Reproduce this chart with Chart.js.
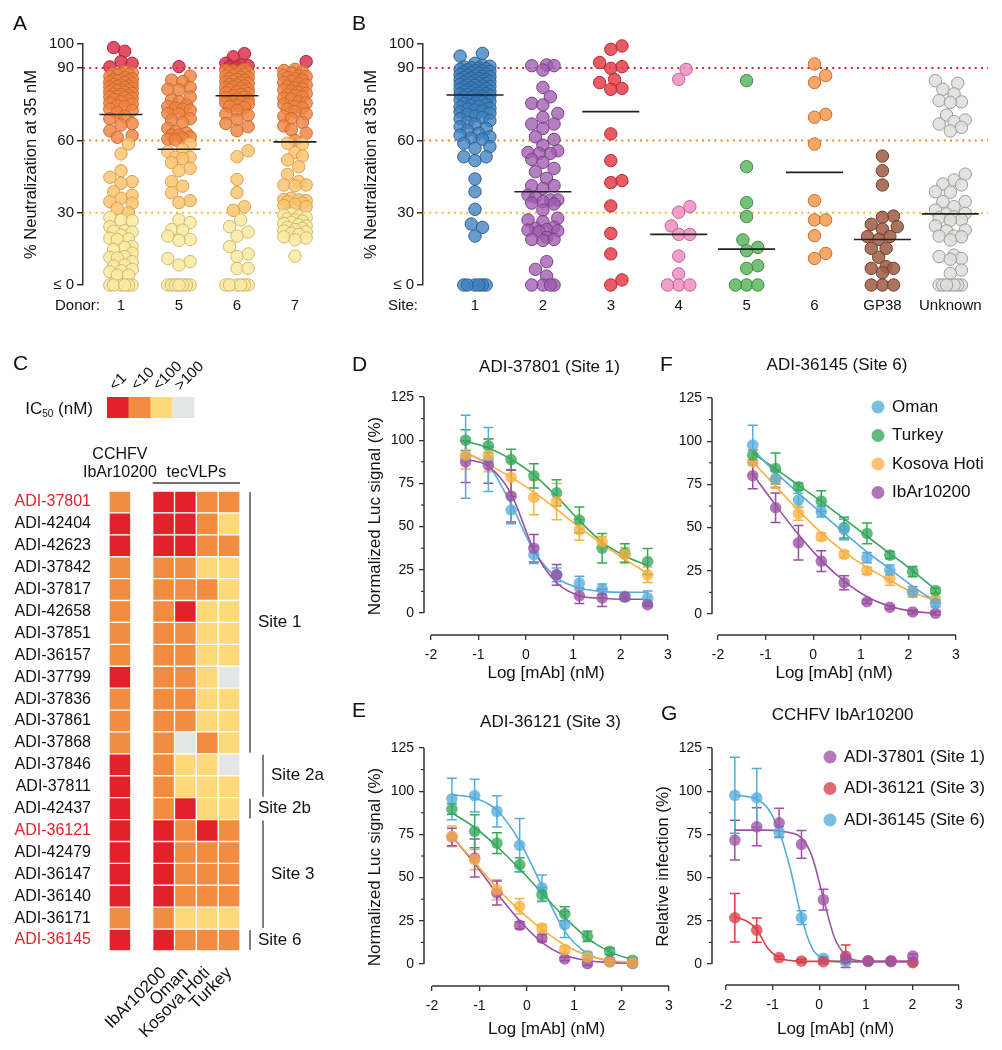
<!DOCTYPE html>
<html>
<head>
<meta charset="utf-8">
<script src="https://cdn.jsdelivr.net/npm/chart.js@4.4.1/dist/chart.umd.min.js"></script>
<style>
  body { margin: 0; background: #fff; }
  #page { position: relative; width: 1002px; height: 1050px; overflow: hidden; font-family: "Liberation Sans", Arial, sans-serif; color: #111; }
  canvas { position: absolute; }
  .tag { position: absolute; font-size: 21px; line-height: 1; }
</style>
</head>
<body>
<div id="page">
  <canvas id="cA" width="320" height="290" style="left:0;top:30px"></canvas>
  <canvas id="cB" width="672" height="290" style="left:330px;top:30px"></canvas>
  <canvas id="cC" width="330" height="710" style="left:0;top:340px"></canvas>
  <canvas id="cD" width="350" height="360" style="left:330px;top:330px"></canvas>
  <canvas id="cF" width="352" height="360" style="left:650px;top:330px"></canvas>
  <canvas id="cE" width="350" height="360" style="left:330px;top:690px"></canvas>
  <canvas id="cG" width="352" height="360" style="left:650px;top:690px"></canvas>
  <div class="tag" style="left:13px;top:12px">A</div>
  <div class="tag" style="left:352px;top:12px">B</div>
  <div class="tag" style="left:13px;top:352px">C</div>
  <div class="tag" style="left:352px;top:353px">D</div>
  <div class="tag" style="left:660px;top:353px">F</div>
  <div class="tag" style="left:352px;top:699px">E</div>
  <div class="tag" style="left:661px;top:702px">G</div>
</div>
<script>
// ---------- panel A: % neutralization per donor ----------
const DONORS = ['1', '5', '6', '7'];
const donor1 = [98.5, 97, 92.7, 92, 90.5,
  88.5, 88, 87.8, 87.5, 87.2, 87, 86.5, 86, 85.5, 85.2, 85, 84.8, 84.6, 84.2, 84, 83.6, 83.2, 83, 82.6,
  82.4, 82.2, 82, 81.6, 81.2, 81, 80.8, 80.6, 80.2, 80, 79.5, 79.2, 79, 78.6, 78.2, 78, 77.8, 77.5, 77,
  76.5, 76, 75.5, 75, 74.3, 74, 73, 72.5, 71.5,
  70, 69, 67, 66.4, 64, 62, 61.3,
  58.5, 54.4, 47.4, 44.7, 42.9, 42.2, 38.7, 37.3, 36, 34.6, 33.9, 31.8,
  30, 28, 27, 26.7, 24.2, 22.5, 22.3, 22, 20.7, 19.4, 19.1, 18.9, 16, 15.6, 14.8, 13.2, 11.8, 11.5, 11.2,
  9.7, 8.3, 7.9, 6.5, 5.9, 5.5, 4.1, 4.1,
  0, 0, 0, 0, 0, 0];
const donor5 = [90.6,
  86.7, 85, 84.4, 82, 81.2, 81, 78, 76.8, 76, 74.7, 74, 73.5, 73, 72.6, 71.2, 71, 69, 68.5, 67.5, 65, 63.6,
  63, 62.2, 62.2, 61.5, 61, 60.5,
  60.2, 58.5, 56.3, 55.3, 53, 53, 52.5, 50.8, 48.4, 47.4, 42.9, 41, 38.3, 35, 34.2,
  27, 25.9, 23, 22.8, 20.3, 18.9, 18.5, 11, 9.7, 8.3,
  0, 0, 0, 0, 0, 0, 0, 0];
const donor6 = [96, 94.7, 92, 91.3, 91, 90.6, 90.5,
  89.5, 89, 88.8, 88.5, 88.2, 88, 87.6, 87.3, 87, 86.6, 86.2, 86, 85.6, 85.3, 85, 84.6, 84.3, 84, 83.6,
  83.2, 83, 82.6, 82.2, 82, 81.6, 81.2, 81, 80.5, 80.2, 79.8, 79.4, 79, 78.5, 78, 77.6, 77.2, 76.8, 76.3,
  76, 75.5, 75, 74.5, 74, 73.5, 72.5, 71, 70.5, 68.5, 67, 65.7, 64,
  55.7, 53.2, 43.8, 38.3,
  32.5, 31, 27, 24.2, 22, 20.3, 15.9, 12.9, 11.8, 6.9, 6.9,
  0, 0, 0, 0, 0, 0];
const donor7 = [92.7,
  89.5, 89, 88.5, 88, 87, 86.8, 86.5, 86, 85.5, 85, 84.5, 84, 83.5, 83, 82.5, 82, 81.5, 81, 80.5, 80,
  79.5, 79, 78.5, 78, 77.5, 77, 76, 75.5, 75, 74, 73.5, 73, 72, 71, 70, 69, 67.5, 66, 64.5, 63,
  60, 58.8, 58.5, 54.9, 53.5, 51.9, 49.1, 45.9, 42.9, 41.5, 41.5, 41.2, 36, 35.5, 35.3, 35, 34.6, 34,
  33.5, 33, 32.5,
  29.5, 29, 28.6, 28, 27.5, 27, 26.5, 26, 25.5, 25, 24.5, 24, 23.5, 23, 22.4, 22, 21.5, 21, 20, 19.5,
  18.7, 12];

// ---------- panel B: % neutralization per site ----------
const SITES = ['1', '2', '3', '4', '5', '6', 'GP38', 'Unknown'];
const site1 = [96.1, 95, 92, 91.2, 90.8, 90.5, 90.2, 90, 89.8, 89.5,
  89.3, 89, 88.8, 88.6, 88.3, 88, 87.8, 87.6, 87.3, 87,
  86.8, 86.6, 86.4, 86.1, 85.9, 85.7, 85.4, 85.2, 85, 84.8,
  84.6, 84.4, 84.1, 83.9, 83.7, 83.5, 83.2, 83, 82.8, 82.6,
  82.4, 82.1, 81.9, 81.7, 81.5, 81.2, 81, 80.8, 80.5, 80.3,
  80.1, 79.9, 79.6, 79.4, 79.2, 79, 78.7, 78.5, 78.2, 78,
  77.7, 77.4, 77.1, 76.8, 76.5, 76.2, 75.9, 75.5, 75.2, 74.8,
  74.5, 74.1, 73.8, 73.4, 73, 72.6, 72.2, 71.8, 71.3, 70.8,
  70.2, 69.5, 69, 68.2, 67.5, 66.8, 65.7, 65, 64.2, 63,
  62.2, 61.5, 61, 60.5, 58.8, 57.4, 56.7, 53.2, 53.2, 51.6,
  44, 38.7, 31.4, 25.3, 23.9, 20.3, 0, 0, 0, 0, 0, 0];
const site2 = [91.3, 91, 91, 89.2, 82, 78.1, 75.4, 74.7, 71.2, 69.6, 66.8, 66.8, 65, 61.5, 60.4, 58, 55.7,
  55, 54.6, 54.6, 52.1, 50.9, 48.4, 47, 44.3, 41.2, 41.2, 40.1, 37.3, 36.5, 35.3, 35.3, 34.6, 34, 33.6,
  31.1, 27.7, 27, 26.3, 24, 23.5, 23, 22.8, 22.5, 22.1, 19.8, 18.9, 18.9, 18.5, 9.7, 6.5, 3.7, 0, 0, 0, 0];
const site3 = [99.2, 97.8, 92.3, 90.6, 89.9, 85.3, 84, 81.6, 81.2, 62.7, 51.6, 43.3, 42.5, 32.8, 21.4, 12.9, 2.1, 0];
const site4 = [89.5, 85.3, 32.5, 30.2, 24.5, 21, 21, 12, 4.6, 0, 0, 0];
const site5 = [84.8, 49.1, 34.2, 28.4, 18.7, 15.6, 14.2, 8, 6.9, 0, 0, 0];
const site6 = [91.7, 86.9, 84, 70.8, 69.6, 58.5, 35, 27, 27, 20.5, 13.1, 11];
const siteGP38 = [53.5, 47.4, 41.5, 28.6, 28.1, 25.2, 24.2, 23.2, 20.1, 20.1, 18.9, 15.2, 15.2, 11.5, 7.6,
  6.9, 6.9, 5.1, 0, 0, 0];
const siteUnknown = [84.8, 83.7, 81.2, 79.3, 76.5, 76, 75.8, 70.5, 68.5, 67.8, 66.8, 65.4, 63.9,
  46, 43.6, 41.9, 41.5, 38.7, 38.5, 34.6, 34.6, 32.5, 31.1, 29.7, 29.5, 28.3, 27.9, 27, 26.8, 24.5, 22.8,
  22.5, 20.3, 20.3, 20, 18.7, 12.4, 11.8, 11, 10.7, 6.2, 4.8, 0, 0, 0, 0, 0, 0, 0];

const NEUT_TICKS = [0, 30, 60, 90, 100];
const THRESHOLDS = [90, 60, 30];

// ---------- panel C: IC50 heatmap ----------
const MABS = ['ADI-37801', 'ADI-42404', 'ADI-42623', 'ADI-37842', 'ADI-37817', 'ADI-42658', 'ADI-37851',
  'ADI-36157', 'ADI-37799', 'ADI-37836', 'ADI-37861', 'ADI-37868', 'ADI-37846', 'ADI-37811', 'ADI-42437',
  'ADI-36121', 'ADI-42479', 'ADI-36147', 'ADI-36140', 'ADI-36171', 'ADI-36145'];
const MAB_HIGHLIGHT = ['ADI-37801', 'ADI-36121', 'ADI-36145'];
const IC50_BINS = ['<1', '<10', '<100', '>100'];
const TEC_STRAINS = ['IbAr10200', 'Oman', 'Kosova Hoti', 'Turkey'];
// bin index per mAb (0: <1, 1: <10, 2: <100, 3: >100)
const ic50Cchfv  = [1, 0, 0, 1, 1, 1, 1, 1, 0, 1, 1, 1, 0, 0, 0, 0, 0, 0, 0, 1, 0];
const ic50IbAr   = [0, 0, 0, 1, 1, 1, 1, 1, 1, 1, 1, 1, 1, 1, 1, 0, 0, 0, 0, 1, 0];
const ic50Oman   = [0, 0, 0, 1, 1, 0, 1, 1, 1, 1, 1, 3, 2, 2, 0, 1, 1, 1, 1, 2, 1];
const ic50Kosova = [1, 1, 1, 2, 1, 2, 2, 2, 2, 2, 2, 1, 2, 2, 2, 0, 1, 1, 1, 2, 1];
const ic50Turkey = [1, 2, 1, 2, 2, 2, 2, 2, 3, 2, 2, 2, 3, 2, 2, 1, 1, 1, 1, 2, 1];
const SITE_GROUPS = [
  { name: 'Site 1', from: 0, to: 11, level: 0 },
  { name: 'Site 2a', from: 12, to: 13, level: 1 },
  { name: 'Site 2b', from: 14, to: 14, level: 0 },
  { name: 'Site 3', from: 15, to: 19, level: 1 },
  { name: 'Site 6', from: 20, to: 20, level: 0 }
];

// ---------- panels D, F: ADI-37801 / ADI-36145 on tecVLPs ----------
const LOG_DF = [-1.27, -0.79, -0.31, 0.17, 0.65, 1.13, 1.61, 2.09, 2.57];
const dOman = [90.4, 88.8, 59.6, 33.7, 22.1, 17.3, 13.8, 9.6, 8.7];
const dOmanErr = [24, 18.5, 8, 5, 4, 4, 3, 2, 4];
const dOmanFit = [92.5, 85.5, 63, 36, 20.5, 14.5, 12.5, 12, 12];
const dTurkey = [100, 96.7, 88.8, 79.4, 69.6, 53.8, 37.5, 34.6, 29.8];
const dTurkeyErr = [6, 4, 6, 7, 7.5, 7.5, 8.5, 5.5, 7.5];
const dTurkeyFit = [99.5, 95.5, 89, 80, 67.5, 53.5, 41, 33, 27.5];
const dKosova = [91.3, 91.3, 78.5, 66.9, 64.4, 48.1, 41.3, 33.7, 22.1];
const dKosovaErr = [8, 9.5, 9, 10, 10.5, 6, 3, 4, 4.5];
const dKosovaFit = [93, 86, 78.5, 70, 60, 49.5, 40, 31, 23];
const dIbAr = [87.5, 85.6, 67.7, 37.5, 22.1, 10, 8.7, 9.2, 4.8];
const dIbArErr = [12, 10.5, 15, 8, 6, 4.5, 5, 2, 1];
const dIbArFit = [89, 85, 69, 36.5, 17.5, 10, 8.5, 8, 8];

const fOman = [97.7, 78.4, 65.9, 59.2, 48.9, 32.6, 25.4, 12.9, 6.2];
const fOmanErr = [11.5, 5, 4, 3, 6, 3, 3, 3, 2];
const fOmanFit = [95, 82, 70, 58.5, 47, 36, 26, 16, 7];
const fTurkey = [91.9, 84.2, 73.6, 65.3, 50, 46.6, 34.1, 24.5, 13.5];
const fTurkeyErr = [3, 9, 2, 6, 6, 6, 2, 3, 1.5];
const fTurkeyFit = [93, 84, 74.5, 65, 55, 45, 35, 25, 14];
const fKosova = [88, 77.8, 58.2, 44.7, 34.5, 25, 20.6, 12.3, 8.5];
const fKosovaErr = [7, 5, 4, 2, 2, 2, 4, 2, 1.5];
const fKosovaFit = [88, 74, 60, 47, 36, 27, 19.5, 12.5, 8];
const fIbAr = [80, 61.5, 41.2, 30.6, 18.1, 7.1, 3.9, 1.2, 0.4];
const fIbArErr = [7.5, 8.5, 10, 6, 4, 1, 1, 1, 1];
const fIbArFit = [81, 63, 46, 31, 19, 10, 4.5, 1.5, 0.5];

// ---------- panel E: ADI-36121 on tecVLPs ----------
const LOG_E = [-1.58, -1.10, -0.63, -0.15, 0.32, 0.80, 1.28, 1.75, 2.23];
const eOman = [95.5, 97.4, 88.3, 68.7, 44, 22.8, 4.8, 1.5, 0.2];
const eOmanErr = [12, 9.5, 9, 15.5, 7.5, 7.5, 2, 1, 1];
const eOmanFit = [98, 96, 89, 71, 45, 19, 6, 1.5, 0.3];
const eTurkey = [89.7, 76.8, 70, 57.5, 40.1, 29.1, 16, 7.3, 2.1];
const eTurkeyErr = [3, 9.5, 6, 4, 4, 4, 3, 2, 1];
const eTurkeyFit = [87.5, 79, 68, 55, 41, 27, 15, 7, 2.5];
const eKosova = [73.9, 60.4, 43, 33.4, 20.8, 8.3, 3.9, 1, 0.6];
const eKosovaErr = [6, 5.8, 5.8, 4.5, 2, 2, 1, 1, 1];
const eKosovaFit = [74, 59, 44, 31, 20, 11, 5, 2, 1];
const eIbAr = [73.5, 61.3, 41.1, 22.4, 15, 2.9, 0.2, 1.5, 0.5];
const eIbArErr = [5, 11, 7, 2, 2, 1, 1, 1, 1];
const eIbArFit = [74, 58, 41, 25, 12.5, 5, 2, 0.8, 0.5];

// ---------- panel G: authentic CCHFV IbAr10200 ----------
const LOG_G = [-1.81, -1.34, -0.86, -0.38, 0.09, 0.57, 1.05, 1.54, 2.01];
const LOG_G_FIT = [-1.81, -1.57, -1.34, -1.1, -0.86, -0.62, -0.38, -0.15, 0.09, 0.33, 0.57, 0.81, 1.05, 1.54, 2.01];
const g37801 = [71.7, 79.4, 81.7, 69.2, 37.2, 3, 1.9, 1.9, 4.6];
const g37801Err = [11.5, 11, 8.5, 8, 6, 2, 1, 1, 1];
const g37801Fit = [77.5, 77.5, 77.5, 77.5, 77, 76, 73, 62, 38, 15, 5, 2, 1.6, 1.5, 1.5];
const g36121 = [26.8, 19.6, 3.7, 1.7, 1.3, 4.5, 1.7, 1.5, 0.8];
const g36121Err = [14, 7, 1, 1, 1, 6.5, 1, 1, 1];
const g36121Fit = [27, 25, 20, 9, 3.5, 2, 1.6, 1.5, 1.5, 1.5, 1.5, 1.5, 1.5, 1.5, 1.5];
const g36145 = [97.6, 96.2, 76.5, 26.8, 3.3, 1.3, 1.3, 1.3, 1.3];
const g36145Err = [22, 17, 3, 4, 1, 1, 1, 1, 1];
const g36145Fit = [97.5, 97, 95.5, 90, 77, 55, 27, 9, 3, 1.5, 1.2, 1.2, 1.2, 1.2, 1.2];

// ---------- styling ----------
const FONT = '"Liberation Sans", Arial, Helvetica, sans-serif';
Chart.defaults.font.family = FONT;
Chart.defaults.font.size = 14;
Chart.defaults.color = '#111';
Chart.defaults.animation = false;
Chart.defaults.plugins.legend.display = false;
Chart.defaults.plugins.tooltip.enabled = false;

const REF_COLORS = { 90: '#e8202a', 60: '#f5852a', 30: '#f9b628' };
const SITE_COLORS = [
  ['rgba(62,130,192,0.78)', '#2d5f90'], ['rgba(160,92,176,0.78)', '#7a3f88'],
  ['rgba(228,62,72,0.85)', '#b02a35'], ['rgba(238,142,192,0.85)', '#c0608f'],
  ['rgba(92,182,96,0.85)', '#3d8a42'], ['rgba(244,154,76,0.85)', '#c07030'],
  ['rgba(160,96,72,0.88)', '#704030'], ['rgba(222,222,220,0.85)', '#9a9a9a']
];
const HEAT_COLORS = ['#e3212b', '#f28c40', '#fdd97a', '#e4e5e5'];
const C_OMAN = '#55acdc', C_TURKEY = '#35a85a', C_KOSOVA = '#fbb040', C_IBAR = '#9a4ea3';
const C_G1 = '#a052a8', C_G3 = '#d8404c', C_G6 = '#55acdb';

function neutColor(v, border) {
  if (v >= 90) return border ? '#b3203c' : 'rgba(216,50,75,0.85)';
  if (v >= 60) return border ? '#c96a30' : 'rgba(240,132,66,0.82)';
  if (v >= 30) return border ? '#d6a050' : 'rgba(252,198,112,0.85)';
  return border ? '#cdb870' : 'rgba(251,234,162,0.88)';
}

function withAlpha(hex, a) {
  const n = parseInt(hex.slice(1), 16);
  return `rgba(${n >> 16},${(n >> 8) & 255},${n & 255},${a})`;
}

function median(vals) {
  const s = [...vals].sort((a, b) => a - b);
  const m = Math.floor(s.length / 2);
  return s.length % 2 ? s[m] : (s[m - 1] + s[m]) / 2;
}

function drawText(ctx, text, x, y, size, align = 'center', color = '#111') {
  ctx.save();
  ctx.font = `${size}px ${FONT}`;
  ctx.fillStyle = color;
  ctx.textAlign = align;
  ctx.textBaseline = 'middle';
  ctx.fillText(text, x, y);
  ctx.restore();
}

function line(ctx, x1, y1, x2, y2, color, width) {
  ctx.save();
  ctx.strokeStyle = color;
  ctx.lineWidth = width;
  ctx.beginPath();
  ctx.moveTo(x1, y1);
  ctx.lineTo(x2, y2);
  ctx.stroke();
  ctx.restore();
}

function drawHeatExtras(chart) {
  const { ctx, chartArea: ca, scales: { x, y } } = chart;
  const cw = x.getPixelForValue(1) - x.getPixelForValue(0);
  const legTop = ca.top - 94;

  IC50_BINS.forEach((bin, i) => {
    const left = x.getPixelForValue(i) - 2;
    ctx.fillStyle = HEAT_COLORS[i];
    ctx.fillRect(left, legTop, cw, 21);
    ctx.save();
    ctx.translate(left + 8, legTop - 6);
    ctx.rotate(-Math.PI / 4);
    ctx.font = `15px ${FONT}`;
    ctx.fillStyle = '#111';
    ctx.textAlign = 'left';
    ctx.textBaseline = 'alphabetic';
    ctx.fillText(bin, 0, 0);
    ctx.restore();
  });

  // IC50 (nM) with subscript
  ctx.save();
  ctx.fillStyle = '#111';
  ctx.textBaseline = 'alphabetic';
  ctx.font = `17px ${FONT}`;
  const w1 = ctx.measureText('IC').width, w3 = ctx.measureText(' (nM)').width;
  ctx.font = `10px ${FONT}`;
  const w2 = ctx.measureText('50').width;
  const sx = x.getPixelForValue(0) - 16 - (w1 + w2 + w3);
  const base = legTop + 17;
  ctx.font = `17px ${FONT}`;
  ctx.fillText('IC', sx, base);
  ctx.font = `10px ${FONT}`;
  ctx.fillText('50', sx + w1, base + 3);
  ctx.font = `17px ${FONT}`;
  ctx.fillText(' (nM)', sx + w1 + w2, base);
  ctx.restore();

  // column headers
  drawText(ctx, 'CCHFV', x.getPixelForValue(0.5), ca.top - 36, 16);
  drawText(ctx, 'IbAr10200', x.getPixelForValue(0.5), ca.top - 18, 16);
  drawText(ctx, 'tecVLPs', x.getPixelForValue(4), ca.top - 18, 16);
  line(ctx, x.getPixelForValue(2), ca.top - 8, x.getPixelForValue(6), ca.top - 8, '#444', 1.5);

  // site brackets
  const half = (y.getPixelForValue(1) - y.getPixelForValue(0)) / 2;
  SITE_GROUPS.forEach(g => {
    const bx = ca.right + 10 + g.level * 13;
    const y1 = y.getPixelForValue(g.from) - half + 1;
    const y2 = y.getPixelForValue(g.to) + half - 1;
    line(ctx, bx, y1, bx, y2, '#555', 1.5);
    drawText(ctx, g.name, bx + 8, (y1 + y2) / 2, 17, 'left');
  });
}

const panelDecor = {
  id: 'panelDecor',
  beforeDatasetsDraw(chart) {
    const ctx = chart.ctx;
    const ys = chart.scales.y;
    chart.data.datasets.forEach((ds, i) => {
      if (!ds.errors) return;
      const meta = chart.getDatasetMeta(i);
      ctx.save();
      ctx.strokeStyle = ds.errorColor;
      ctx.lineWidth = 1.5;
      meta.data.forEach((pt, j) => {
        const e = ds.errors[j];
        if (!e) return;
        const v = ds.data[j].y;
        const top = ys.getPixelForValue(v + e), bot = ys.getPixelForValue(v - e);
        ctx.beginPath();
        ctx.moveTo(pt.x, top); ctx.lineTo(pt.x, bot);
        ctx.moveTo(pt.x - 5, top); ctx.lineTo(pt.x + 5, top);
        ctx.moveTo(pt.x - 5, bot); ctx.lineTo(pt.x + 5, bot);
        ctx.stroke();
      });
      ctx.restore();
    });
  },
  afterDraw(chart, args, o) {
    const { ctx, chartArea: ca, scales } = chart;
    if (o.axes) {
      const a = o.axes, xs = scales.x, ys = scales.y;
      line(ctx, ca.left, ys.getPixelForValue(a.yTo), ca.left, ys.getPixelForValue(a.yFrom), '#333', 1.5);
      line(ctx, xs.getPixelForValue(a.xFrom), ca.bottom, xs.getPixelForValue(a.xTo), ca.bottom, '#333', 1.5);
      a.yMinor.forEach(v => {
        const py = ys.getPixelForValue(v);
        line(ctx, ca.left - 3, py, ca.left, py, '#333', 1.2);
      });
      if (o.title) {
        const cx = (xs.getPixelForValue(a.xFrom) + xs.getPixelForValue(a.xTo)) / 2;
        drawText(ctx, o.title.text, cx, o.title.y, 17);
      }
    }
    if (o.legend) {
      let k = 0;
      chart.data.datasets.forEach(ds => {
        if (!ds.legendItem) return;
        const ly = o.legend.y + k * o.legend.gap;
        ctx.save();
        ctx.fillStyle = ds.backgroundColor;
        ctx.beginPath();
        ctx.arc(o.legend.x, ly, 6.5, 0, Math.PI * 2);
        ctx.fill();
        ctx.restore();
        drawText(ctx, ds.label, o.legend.x + 14, ly, 17, 'left');
        k++;
      });
    }
    if (o.caption) drawText(ctx, o.caption.text, o.caption.x, o.caption.y, 15, 'right');
    if (o.heat) drawHeatExtras(chart);
  }
};
Chart.register(panelDecor);

// ---------- scatter dot plots (A, B) ----------
function swarmX(chart, center, values, halfWidth, radius) {
  const xs = chart.scales.x, ys = chart.scales.y;
  const cx = xs.getPixelForValue(center);
  const order = values.map((v, i) => i).sort((a, b) => values[a] - values[b]);
  const placed = [];
  const out = new Array(values.length);
  const step = radius * 0.6, minDist = radius * 1.75;
  order.forEach(i => {
    const py = ys.getPixelForValue(values[i]);
    let best = 0, bestGap = -1;
    for (let k = 0; ; k++) {
      const off = (k % 2 ? 1 : -1) * Math.ceil(k / 2) * step;
      if (Math.abs(off) > halfWidth) break;
      let gap = Infinity;
      for (const p of placed) {
        if (Math.abs(p.y - py) < minDist) gap = Math.min(gap, Math.hypot(p.x - off, p.y - py));
      }
      if (gap >= minDist) { best = off; break; }
      if (gap > bestGap) { bestGap = gap; best = off; }
    }
    placed.push({ x: best, y: py });
    out[i] = xs.getValueForPixel(cx + best);
  });
  return out;
}

function dotPlot(id, g) {
  const box = g.box;
  const padLeft = g.yTitleX - box.l - 10;
  const spacing = g.spacing;
  const xMin = -(g.cat0 - g.axisX) / spacing;
  const xMax = (g.right - g.cat0) / spacing;
  const groups = g.groups;

  const datasets = [];
  THRESHOLDS.forEach(t => datasets.push({
    type: 'line', data: [{ x: xMin, y: t }, { x: xMax, y: t }], borderColor: REF_COLORS[t],
    borderWidth: 2, borderDash: [2, 4.2], pointRadius: 0, order: 9
  }));
  groups.forEach((vals, i) => datasets.push({
    type: 'scatter', data: vals.map(v => ({ x: i, y: v })), pointRadius: 6.2, pointBorderWidth: 1,
    backgroundColor: g.fill(i), borderColor: g.stroke(i), clip: false, order: 2
  }));
  const med = [];
  groups.forEach((vals, i) => {
    const m = median(vals);
    med.push({ x: i - g.medHalf, y: m }, { x: i + g.medHalf, y: m }, { x: i, y: null });
  });
  datasets.push({ type: 'line', data: med, borderColor: '#222', borderWidth: 1.6, pointRadius: 0, spanGaps: false, order: 0, clip: false });

  const chart = new Chart(document.getElementById(id), {
    type: 'scatter',
    data: { datasets },
    options: {
      responsive: false,
      layout: { padding: { left: padLeft, top: g.y100 - box.t, right: box.l + box.w - g.right, bottom: 0 } },
      scales: {
        x: {
          type: 'linear', min: xMin, max: xMax,
          afterBuildTicks: s => { s.ticks = g.cats.map((c, i) => ({ value: i })); },
          ticks: { callback: (v, i) => g.cats[i], autoSkip: false, maxRotation: 0, padding: 4, font: { size: 15 } },
          grid: { display: false }, border: { display: false },
          afterFit: s => { s.height = box.t + box.h - g.y0; }
        },
        y: {
          min: 0, max: 100,
          afterBuildTicks: s => { s.ticks = NEUT_TICKS.map(v => ({ value: v })); },
          ticks: { callback: v => (v === 0 ? '≤ 0' : String(v)), padding: 3, font: { size: 15 } },
          grid: { drawOnChartArea: false, tickLength: 6, color: '#333', lineWidth: 1.5 },
          border: { color: '#333', width: 1.5 },
          title: { display: true, text: '% Neutralization at 35 nM', font: { size: 16.5 }, padding: 0 },
          afterFit: s => { s.width = g.axisX - box.l - padLeft; }
        }
      },
      plugins: { panelDecor: { caption: { text: g.caption, x: g.captionRight - box.l, y: g.y0 - box.t + 21 } } }
    }
  });

  groups.forEach((vals, i) => {
    const xs = swarmX(chart, i, vals, g.halfWidth, 6.2);
    chart.data.datasets[THRESHOLDS.length + i].data = vals.map((v, j) => ({ x: xs[j], y: v }));
  });
  chart.update('none');
  return chart;
}

dotPlot('cA', {
  box: { l: 0, t: 30, w: 320, h: 290 }, axisX: 83, y100: 44, y0: 285, yTitleX: 32,
  cat0: 121, spacing: 58, right: 305, medHalf: 0.37, halfWidth: 14.5,
  cats: DONORS, groups: [donor1, donor5, donor6, donor7],
  fill: () => c => neutColor(c.raw ? c.raw.y : 0, false),
  stroke: () => c => neutColor(c.raw ? c.raw.y : 0, true),
  caption: 'Donor:', captionRight: 100
});

dotPlot('cB', {
  box: { l: 330, t: 30, w: 672, h: 290 }, axisX: 423, y100: 44, y0: 285, yTitleX: 372,
  cat0: 475, spacing: 67.9, right: 988, medHalf: 0.42, halfWidth: 18,
  cats: SITES, groups: [site1, site2, site3, site4, site5, site6, siteGP38, siteUnknown],
  fill: i => SITE_COLORS[i][0], stroke: i => SITE_COLORS[i][1],
  caption: 'Site:', captionRight: 418
});

// ---------- heatmap (C) ----------
const heatColumns = [ic50Cchfv, ic50IbAr, ic50Oman, ic50Kosova, ic50Turkey];
const HEAT_X = [0, 2, 3, 4, 5];
new Chart(document.getElementById('cC'), {
  type: 'bar',
  data: {
    labels: MABS,
    datasets: heatColumns.map((codes, j) => ({
      data: codes.map(() => [HEAT_X[j], HEAT_X[j] + 1]),
      backgroundColor: codes.map(c => HEAT_COLORS[c]),
      borderColor: '#fff', borderWidth: 1, borderSkipped: false,
      barPercentage: 1, categoryPercentage: 1, grouped: false
    }))
  },
  options: {
    responsive: false,
    indexAxis: 'y',
    layout: { padding: { left: 0, top: 151, right: 90, bottom: 0 } },
    scales: {
      x: {
        type: 'linear', min: 0, max: 6,
        afterBuildTicks: s => { s.ticks = TEC_STRAINS.map((n, i) => ({ value: HEAT_X[i + 1] + 0.5 })); },
        ticks: { callback: (v, i) => TEC_STRAINS[i], autoSkip: false, minRotation: 45, maxRotation: 45, padding: 4, font: { size: 17 } },
        grid: { display: false }, border: { display: false },
        afterFit: s => { s.height = 99; }
      },
      y: {
        type: 'category',
        ticks: {
          padding: 10, font: { size: 16 }, autoSkip: false,
          color: c => (MAB_HIGHLIGHT.includes(MABS[c.index]) ? '#e3212b' : '#111')
        },
        grid: { display: false }, border: { display: false },
        afterFit: s => { s.width = 109; }
      }
    },
    plugins: { panelDecor: { heat: true } }
  }
});

// ---------- dose-response panels (D, E, F, G) ----------
function curveChart(p) {
  const b = p.box, lh = 17 * 1.2;
  const padLeft = p.yTitle ? p.yTitleX - b.l - lh / 2 : 0;
  const padBottom = b.t + b.h - p.xTitleY - lh / 2;
  const pxPerY = (p.y0 - p.y125) / 125;
  const pxPerX = (p.x3 - p.xm2) / 5;
  const yMin = -(p.xAxisY - p.y0) / pxPerY;
  const xMin = -2 - (p.xm2 - p.axisX) / pxPerX;

  const datasets = [];
  p.series.forEach(s => {
    datasets.push({
      type: 'line', data: s.fitX.map((x, i) => ({ x, y: s.fit[i] })), borderColor: s.color, borderWidth: 1.6,
      pointRadius: 0, cubicInterpolationMode: 'monotone', order: 3, clip: false
    });
    datasets.push({
      type: 'scatter', label: s.label, data: s.x.map((x, i) => ({ x, y: s.y[i] })), errors: s.err,
      errorColor: s.color, backgroundColor: withAlpha(s.color, 0.78), borderWidth: 0, pointRadius: 5.8,
      order: 1, clip: false, legendItem: true
    });
  });

  return new Chart(document.getElementById(p.id), {
    type: 'scatter',
    data: { datasets },
    options: {
      responsive: false,
      layout: { padding: { left: padLeft, top: p.y125 - b.t, right: b.l + b.w - p.x3, bottom: padBottom } },
      scales: {
        x: {
          type: 'linear', min: xMin, max: 3,
          afterBuildTicks: s => { s.ticks = [-2, -1, 0, 1, 2, 3].map(v => ({ value: v })); },
          ticks: { padding: 7, font: { size: 14 }, autoSkip: false, maxRotation: 0 },
          grid: { drawOnChartArea: false, tickLength: 5, color: '#333', lineWidth: 1.3 },
          border: { display: false },
          title: { display: true, text: 'Log [mAb] (nM)', font: { size: 17 }, padding: 0 },
          afterFit: s => { s.height = b.t + b.h - padBottom - p.xAxisY; }
        },
        y: {
          min: yMin, max: 125,
          afterBuildTicks: s => { s.ticks = [0, 25, 50, 75, 100, 125].map(v => ({ value: v })); },
          ticks: { padding: 5, font: { size: 14 } },
          grid: { drawOnChartArea: false, tickLength: 5, color: '#333', lineWidth: 1.3 },
          border: { display: false },
          title: { display: !!p.yTitle, text: p.yTitle || '', font: { size: 17 }, padding: 0 },
          afterFit: s => { s.width = p.axisX - b.l - padLeft; }
        }
      },
      plugins: {
        panelDecor: {
          axes: { xFrom: -2, xTo: 3, yFrom: 0, yTo: 125, yMinor: [12.5, 37.5, 62.5, 87.5, 112.5] },
          title: { text: p.title, y: p.titleY - b.t },
          legend: p.legend ? { x: p.legend.x - b.l, y: p.legend.y - b.t, gap: p.legend.gap } : null
        }
      }
    }
  });
}

curveChart({
  id: 'cD', box: { l: 330, t: 330, w: 350, h: 360 }, axisX: 424, y125: 397, y0: 613, xAxisY: 635,
  xm2: 431, x3: 668, titleY: 367, xTitleY: 673, yTitleX: 375,
  title: 'ADI-37801 (Site 1)', yTitle: 'Normalized Luc signal (%)',
  series: [
    { label: 'Kosova Hoti', color: C_KOSOVA, x: LOG_DF, y: dKosova, err: dKosovaErr, fitX: LOG_DF, fit: dKosovaFit },
    { label: 'Turkey', color: C_TURKEY, x: LOG_DF, y: dTurkey, err: dTurkeyErr, fitX: LOG_DF, fit: dTurkeyFit },
    { label: 'IbAr10200', color: C_IBAR, x: LOG_DF, y: dIbAr, err: dIbArErr, fitX: LOG_DF, fit: dIbArFit },
    { label: 'Oman', color: C_OMAN, x: LOG_DF, y: dOman, err: dOmanErr, fitX: LOG_DF, fit: dOmanFit }
  ]
});

curveChart({
  id: 'cF', box: { l: 650, t: 330, w: 352, h: 360 }, axisX: 712, y125: 398, y0: 614, xAxisY: 635,
  xm2: 718, x3: 956, titleY: 365, xTitleY: 673, yTitleX: null,
  title: 'ADI-36145 (Site 6)', yTitle: null,
  legend: { x: 878, y: 407, gap: 28.5 },
  series: [
    { label: 'Oman', color: C_OMAN, x: LOG_DF, y: fOman, err: fOmanErr, fitX: LOG_DF, fit: fOmanFit },
    { label: 'Turkey', color: C_TURKEY, x: LOG_DF, y: fTurkey, err: fTurkeyErr, fitX: LOG_DF, fit: fTurkeyFit },
    { label: 'Kosova Hoti', color: C_KOSOVA, x: LOG_DF, y: fKosova, err: fKosovaErr, fitX: LOG_DF, fit: fKosovaFit },
    { label: 'IbAr10200', color: C_IBAR, x: LOG_DF, y: fIbAr, err: fIbArErr, fitX: LOG_DF, fit: fIbArFit }
  ]
});

curveChart({
  id: 'cE', box: { l: 330, t: 690, w: 350, h: 360 }, axisX: 424, y125: 748, y0: 964, xAxisY: 986,
  xm2: 432, x3: 669, titleY: 722, xTitleY: 1029, yTitleX: 375,
  title: 'ADI-36121 (Site 3)', yTitle: 'Normalized Luc signal (%)',
  series: [
    { label: 'Kosova Hoti', color: C_KOSOVA, x: LOG_E, y: eKosova, err: eKosovaErr, fitX: LOG_E, fit: eKosovaFit },
    { label: 'IbAr10200', color: C_IBAR, x: LOG_E, y: eIbAr, err: eIbArErr, fitX: LOG_E, fit: eIbArFit },
    { label: 'Turkey', color: C_TURKEY, x: LOG_E, y: eTurkey, err: eTurkeyErr, fitX: LOG_E, fit: eTurkeyFit },
    { label: 'Oman', color: C_OMAN, x: LOG_E, y: eOman, err: eOmanErr, fitX: LOG_E, fit: eOmanFit }
  ]
});

curveChart({
  id: 'cG', box: { l: 650, t: 690, w: 352, h: 360 }, axisX: 712, y125: 748, y0: 964, xAxisY: 985,
  xm2: 726, x3: 959, titleY: 715, xTitleY: 1029, yTitleX: 663,
  title: 'CCHFV IbAr10200', yTitle: 'Relative infection (%)',
  legend: { x: 830, y: 757, gap: 31.5 },
  series: [
    { label: 'ADI-37801 (Site 1)', color: C_G1, x: LOG_G, y: g37801, err: g37801Err, fitX: LOG_G_FIT, fit: g37801Fit },
    { label: 'ADI-36121 (Site 3)', color: C_G3, x: LOG_G, y: g36121, err: g36121Err, fitX: LOG_G_FIT, fit: g36121Fit },
    { label: 'ADI-36145 (Site 6)', color: C_G6, x: LOG_G, y: g36145, err: g36145Err, fitX: LOG_G_FIT, fit: g36145Fit }
  ]
});
</script>
</body>
</html>
